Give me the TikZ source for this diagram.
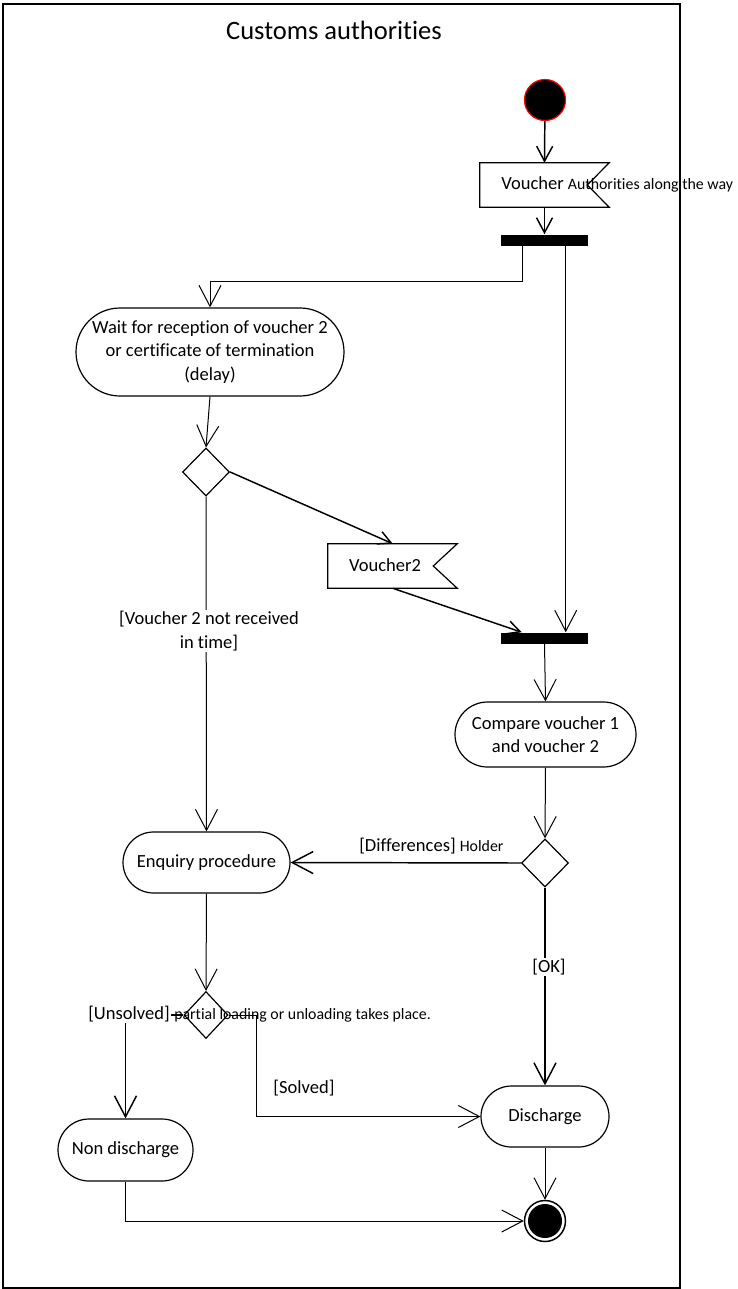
\documentclass[tikz,border=0pt]{standalone}
\usepackage{fontspec}
\setmainfont[Ligatures=NoCommon]{Carlito}
\usetikzlibrary{arrows.meta,shapes.geometric,shapes.misc,calc}

\newcommand\smallnote{\fontsize{11.9}{14}\selectfont}

\tikzset{
  txt/.style={font=\fontsize{13.9}{17.6}\selectfont},
  activity/.style={rounded rectangle, draw, line width=0.9pt, inner sep=0pt, align=center, txt},
  choice/.style={diamond, draw, line width=0.9pt, inner sep=0pt, minimum width=35.25pt, minimum height=36pt},
  syncbar/.style={rectangle, fill=black, inner sep=0pt, minimum width=65.25pt, minimum height=8.25pt},
  sigbox/.style={rectangle, inner sep=0pt, minimum width=96.75pt, minimum height=33pt},
  sigline/.style={line width=0.9pt},
  thinflow/.style={line width=0.75pt},
  boldflow/.style={line width=1.1pt},
  bigtip/.style={-{Straight Barb[length=15.75pt,width=16.5pt]}},
  midtip/.style={-{Straight Barb[length=11.25pt,width=12pt]}},
  smalltip/.style={-{Straight Barb[length=9.75pt,width=10pt]}},
  guard/.style={txt, fill=white, inner sep=1pt, align=center},
}

\begin{document}
\begin{tikzpicture}[x=0.75pt,y=-0.75pt]
\useasboundingbox (0,0) rectangle (738,1289);

% swimlane frame and title
\draw[line width=1.1pt] (3,4) rectangle (680,1288);
\node[font=\fontsize{19.9}{24}\selectfont] (title) at (334,30) {Customs authorities};

% initial node
\node[circle, fill=black, draw=red, line width=0.9pt, minimum size=30.75pt, inner sep=0pt] (start) at (545,100) {};

% send signal: Voucher
\node[sigbox] (v1) at (544.5,185) {};
\draw[sigline] (v1.north west) -- (v1.north east) -- ($(v1.east)+(-22,0)$) -- (v1.south east) -- (v1.south west) -- cycle;
\node[txt, anchor=base west, inner sep=0pt] (v1label) at (501,189) {Voucher {\smallnote Authorities along the way}};

% fork
\node[syncbar] (fork) at (544.5,240) {};

% wait action
\node[activity, minimum width=201pt, minimum height=66pt] (wait) at (210,352)
  {Wait for reception of voucher 2\\or certificate of termination\\(delay)};

% first decision
\node[choice] (d1) at (206,472) {};

% received signal: Voucher2
\node[sigbox] (v2) at (392.5,566) {};
\draw[sigline] (v2.north west) -- (v2.north east) -- ($(v2.east)+(-24,0)$) -- (v2.south east) -- (v2.south west) -- cycle;
\node[txt, anchor=base, inner sep=0pt] (v2label) at (385,571) {Voucher2};

% join
\node[syncbar] (join) at (544.5,638) {};

% comparison and its decision
\node[activity, minimum width=135.75pt, minimum height=48.75pt] (compare) at (545.5,734.5)
  {Compare voucher 1\\and voucher 2};
\node[choice] (d2) at (545,863) {};

% enquiry branch
\node[activity, minimum width=125.25pt, minimum height=45.75pt] (enq) at (206.5,862.5) {Enquiry procedure};
\node[choice, minimum width=33pt, minimum height=35.25pt] (d3) at (206,1015) {};

% outcomes
\node[activity, minimum width=101.25pt, minimum height=46.5pt] (nd) at (125.5,1150) {Non discharge};
\node[activity, minimum width=96pt, minimum height=45.75pt] (dis) at (545,1116.5) {Discharge};

% final node
\node[circle, draw, fill=white, line width=1.1pt, minimum size=30.75pt, inner sep=0pt] (final) at (545,1221) {};
\node[circle, fill=black, minimum size=25.5pt, inner sep=0pt] (finalcore) at (final) {};

% bends
\coordinate (forkL) at ($(fork.south west)+(22,0)$);
\coordinate (forkR) at ($(fork.south west)+(65,0)$);
\coordinate (forkbend) at ($(forkL)+(0,36)$);
\coordinate (solvedbend) at ($(d3.east)+(28,0)$);

% flows
\draw[boldflow, midtip] (start) -- (v1.north);
\draw[boldflow, midtip] (v1.south) -- (fork.north);
\draw[thinflow, bigtip] (forkL) -- (forkbend) -| (wait.north);
\draw[thinflow, bigtip] (forkR) -- (forkR |- join.north);
\draw[thinflow, bigtip] (wait.south) -- (d1.north);
\draw[boldflow, smalltip] (d1.east) -- ($(v2.north west)+(65,0)$);
\draw[boldflow, smalltip] ($(v2.south west)+(65,0)$) -- ($(join.north west)+(21,0)$);
\draw[thinflow, bigtip] (d1.south) -- (enq.north);
\node[guard] (late) at (209,631) {[Voucher 2 not received\\in time]};
\draw[thinflow, bigtip] (join.south) -- (compare.north);
\draw[thinflow, bigtip] (compare.south) -- (d2.north);
\draw[boldflow, bigtip] (d2.west) -- (enq.east);
\node[txt, anchor=base west, inner sep=0pt] (diff) at (359,851) {[Differences] {\smallnote Holder}};
\draw[boldflow, bigtip] (d2.south) -- (dis.north);
\node[guard] (ok) at (549,967) {[OK]};
\draw[thinflow, bigtip] (enq.south) -- (d3.north);
\draw[boldflow, bigtip] (d3.west) -| (nd.north);
\node[guard] (unsolved) at (129,1014) {[Unsolved]};
\node[anchor=base west, inner sep=0pt, font=\smallnote] (partial) at (174,1019) {partial loading or unloading takes place.};
\draw[thinflow, bigtip] (d3.east) -- (solvedbend) |- (dis.west);
\node[txt] (solved) at (304,1088) {[Solved]};
\draw[thinflow, bigtip] (dis.south) -- (final.north);
\draw[thinflow, bigtip] (nd.south) |- (final.west);

\end{tikzpicture}
\end{document}
